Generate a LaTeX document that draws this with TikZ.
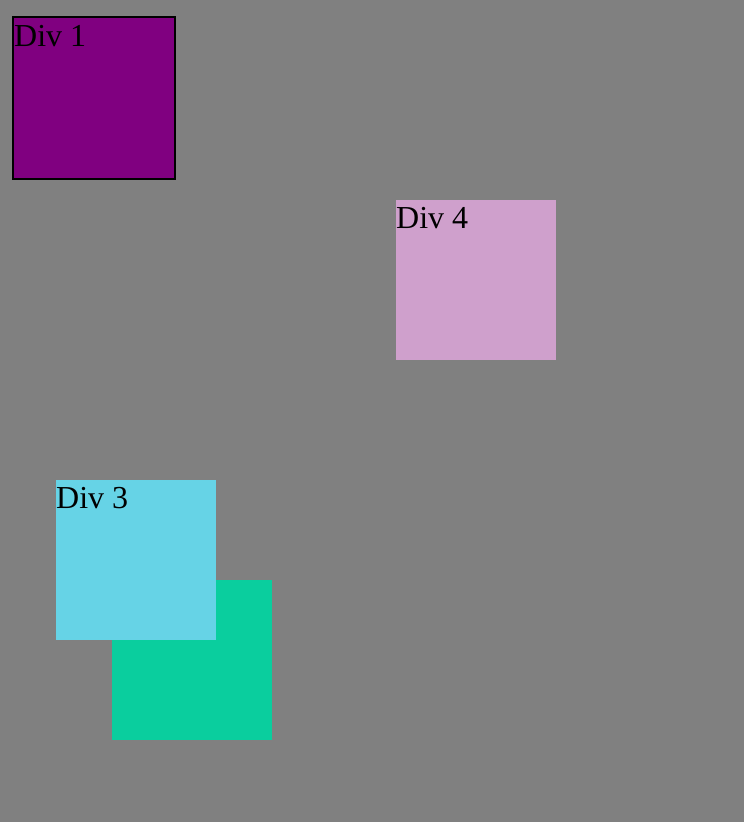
\documentclass[tikz,border=0pt]{standalone}
\usepackage{fontspec}
\setmainfont{Liberation Serif}
\usetikzlibrary{positioning}
\begin{document}
\begin{tikzpicture}[x=1pt,y=-1pt,
  divbox/.style={rectangle,inner sep=0pt,outer sep=0pt,minimum width=160pt,minimum height=160pt,anchor=north west},
  divlabel/.style={inner sep=0pt,anchor=base west,yshift=-28pt,font=\fontsize{32}{38}\selectfont}]
\definecolor{bggray}{HTML}{808080}
\definecolor{divpurple}{HTML}{800080}
\definecolor{divplum}{HTML}{CFA0CC}
\definecolor{divcyan}{HTML}{66D3E6}
\definecolor{divgreen}{HTML}{0ACE9E}
\fill[bggray] (0,0) rectangle (744,822);
\useasboundingbox (0,0) rectangle (744,822);
\node[divbox,fill=divpurple,draw=black,line width=2pt,minimum width=162pt,minimum height=162pt] (div1) at (13,17) {};
\node[divlabel] at (14,18) {Div 1};
\node[divbox,fill=divplum] (div4) at (396,200) {};
\node[divlabel] at (div4.north west) {Div 4};
\node[divbox,fill=divgreen] (div2) at (112,580) {};
\node[divbox,fill=divcyan] (div3) at (56,480) {};
\node[divlabel] at (div3.north west) {Div 3};
\end{tikzpicture}
\end{document}
